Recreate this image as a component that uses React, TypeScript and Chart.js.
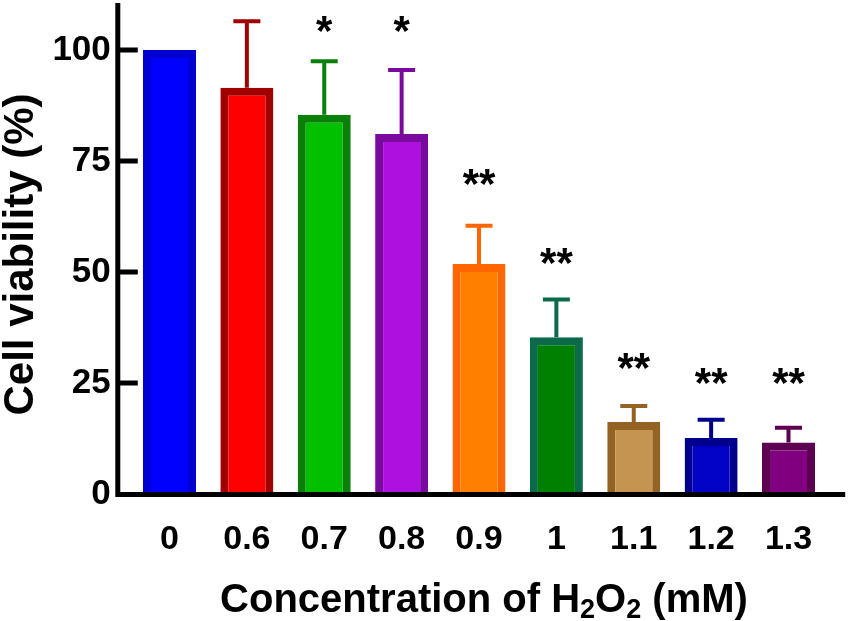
import React, { useEffect, useRef } from 'react';
import { Chart, registerables } from 'chart.js';

Chart.register(...registerables);

// ---- data ----
const categories = ['0', '0.6', '0.7', '0.8', '0.9', '1', '1.1', '1.2', '1.3'];
const viability = [100, 91.5, 85.4, 81.1, 51.8, 35.3, 16.2, 12.6, 11.6];
const errorUpper = [0, 15.0, 12.1, 14.4, 8.6, 8.5, 3.6, 4.1, 3.3];
const significance = ['', '', '*', '*', '**', '**', '**', '**', '**'];
const significanceLevel = [0, 0, 105.9, 105.9, 71.5, 53.5, 30.0, 26.6, 26.6];
const fillColors = ['#0000ff', '#ff0000', '#00c000', '#ae10e0', '#ff8000', '#008000', '#c49450', '#0303c8', '#800080'];
const borderColors = ['#0000d0', '#a00000', '#0a800a', '#7a0a9e', '#ff6600', '#0a6a4a', '#946222', '#00008c', '#5e0052'];
const yTicks = [0, 25, 50, 75, 100];
const yMax = 110.6;
const yTitle = 'Cell viability (%)';
const xTitleParts = [
  { text: 'Concentration of H', sub: false },
  { text: '2', sub: true },
  { text: 'O', sub: false },
  { text: '2', sub: true },
  { text: ' (mM)', sub: false },
];

const FONT = '"Liberation Sans", Arial, Helvetica, sans-serif';

export default function App() {
  const ref = useRef<HTMLCanvasElement>(null);

  useEffect(() => {
    const canvas = ref.current;
    if (!canvas) return;

    const overlay = {
      id: 'overlay',
      afterDatasetsDraw(chart: any) {
        const ctx = chart.ctx as CanvasRenderingContext2D;
        const ys = chart.scales.y;
        const area = chart.chartArea;
        const meta = chart.getDatasetMeta(0);
        ctx.save();

        // error bars (upper only)
        meta.data.forEach((bar: any, i: number) => {
          const e = errorUpper[i];
          if (!e) return;
          const cx = bar.x;
          const base = ys.getPixelForValue(viability[i]);
          const top = ys.getPixelForValue(viability[i] + e);
          ctx.strokeStyle = borderColors[i];
          ctx.lineWidth = 4;
          ctx.lineCap = 'butt';
          ctx.beginPath();
          ctx.moveTo(cx, base);
          ctx.lineTo(cx, top);
          ctx.moveTo(cx - 13.5, top);
          ctx.lineTo(cx + 13.5, top);
          ctx.stroke();
        });

        // axes
        const axisX = area.left - 13;
        const y0 = ys.getPixelForValue(0) + 0.5;
        ctx.strokeStyle = '#000';
        ctx.lineWidth = 5;
        ctx.beginPath();
        ctx.moveTo(axisX, area.top);
        ctx.lineTo(axisX, y0 + 2.5);
        ctx.moveTo(axisX - 2.5, y0);
        ctx.lineTo(area.right + 18, y0);
        ctx.stroke();
        // inward ticks
        ctx.beginPath();
        yTicks.forEach((v) => {
          if (v === 0) return;
          const py = ys.getPixelForValue(v);
          ctx.moveTo(axisX, py);
          ctx.lineTo(axisX + 20, py);
        });
        ctx.stroke();

        // significance marks
        ctx.fillStyle = '#000';
        ctx.font = `bold 42px ${FONT}`;
        ctx.textAlign = 'center';
        ctx.textBaseline = 'alphabetic';
        meta.data.forEach((bar: any, i: number) => {
          const s = significance[i];
          if (!s) return;
          const m = ctx.measureText(s);
          const p = ys.getPixelForValue(significanceLevel[i]);
          const baseY = p + (m.actualBoundingBoxAscent - m.actualBoundingBoxDescent) / 2;
          ctx.fillText(s, bar.x, baseY);
        });

        // x title with subscripts
        const mainFont = `bold 40px ${FONT}`;
        const subFont = `bold 27px ${FONT}`;
        let total = 0;
        const widths = xTitleParts.map((p) => {
          ctx.font = p.sub ? subFont : mainFont;
          const w = ctx.measureText(p.text).width;
          total += w;
          return w;
        });
        let cx = 484 - total / 2;
        const baseline = 612;
        ctx.textAlign = 'left';
        xTitleParts.forEach((p, i) => {
          ctx.font = p.sub ? subFont : mainFont;
          ctx.fillText(p.text, cx, p.sub ? baseline + 6 : baseline);
          cx += widths[i];
        });

        // y title
        ctx.font = `bold 42px ${FONT}`;
        ctx.textAlign = 'center';
        ctx.textBaseline = 'middle';
        ctx.translate(21, (area.top + area.bottom) / 2 + 6);
        ctx.rotate(-Math.PI / 2);
        ctx.fillText(yTitle, 0, 0);

        ctx.restore();
      },
    };

    const chart = new Chart(canvas, {
      type: 'bar',
      data: {
        labels: categories,
        datasets: [
          {
            data: viability,
            backgroundColor: fillColors,
            borderColor: borderColors,
            borderWidth: 8,
            borderSkipped: 'start',
            barPercentage: 0.685,
            categoryPercentage: 1,
          },
        ],
      },
      options: {
        animation: false,
        responsive: true,
        maintainAspectRatio: false,
        layout: { padding: { top: 3, right: 26.8, left: 0, bottom: 0 } },
        plugins: {
          legend: { display: false },
          tooltip: { enabled: false },
          title: { display: false },
        },
        scales: {
          x: {
            type: 'category',
            offset: true,
            grid: { display: false, drawTicks: false },
            border: { display: false },
            ticks: {
              color: '#000',
              font: { family: FONT, size: 34, weight: 'bold', lineHeight: 1.2 },
              padding: 25,
              maxRotation: 0,
              autoSkip: false,
            },
            afterFit: (s: any) => {
              s.height = 127;
              s.paddingLeft = 0;
              s.paddingRight = 0;
            },
          },
          y: {
            type: 'linear',
            min: 0,
            max: yMax,
            grid: { display: false, drawTicks: false },
            border: { display: false },
            afterBuildTicks: (s: any) => {
              s.ticks = yTicks.map((v) => ({ value: v }));
            },
            ticks: {
              color: '#000',
              font: { family: FONT, size: 35, weight: 'bold' },
              padding: 20,
            },
            afterFit: (s: any) => {
              s.width = 130.8;
              s.paddingTop = 0;
              s.paddingBottom = 0;
            },
          },
        },
      },
      plugins: [overlay],
    } as any);

    return () => chart.destroy();
  }, []);

  return (
    <div style={{ position: 'fixed', left: 0, top: 0, width: 854, height: 621, background: '#fff' }}>
      <canvas ref={ref} />
    </div>
  );
}
